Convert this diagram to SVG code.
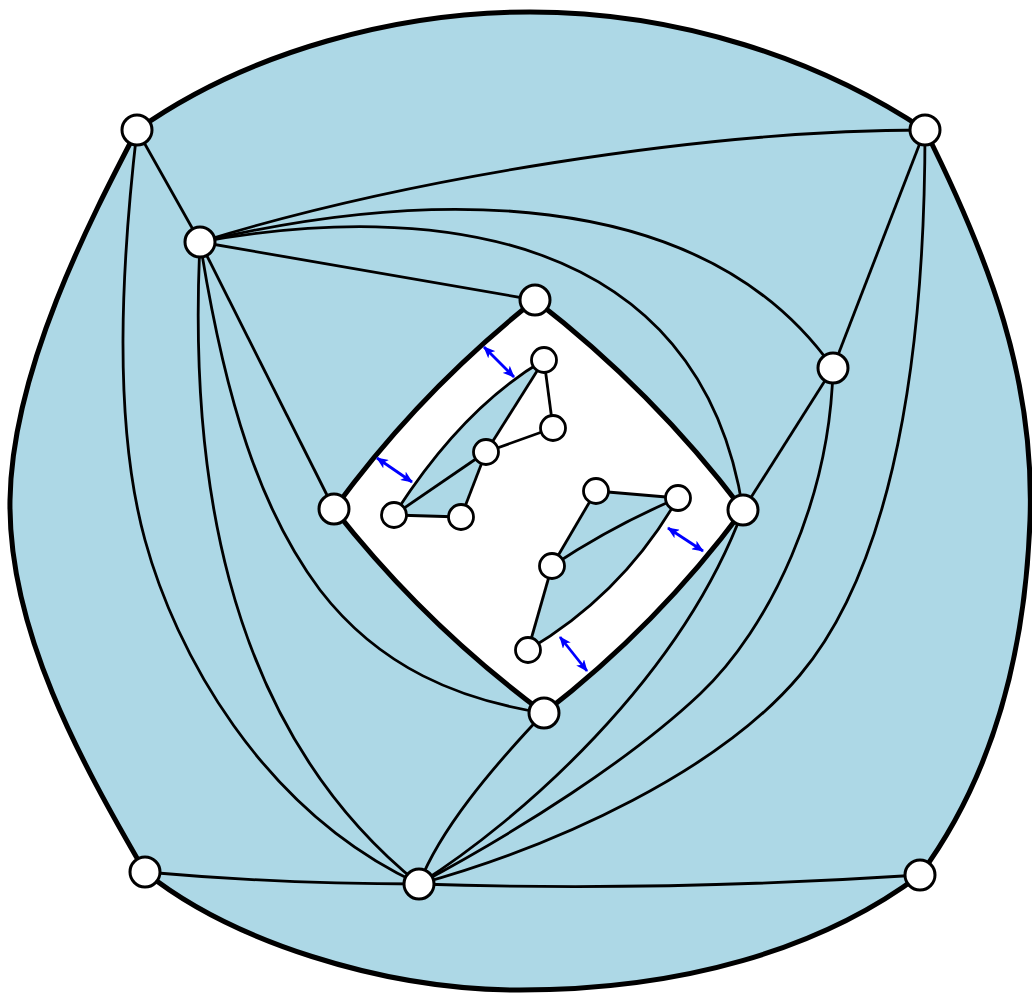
<svg xmlns="http://www.w3.org/2000/svg" width="1032" height="994" viewBox="0 0 1032 994">
<style>
.e{fill:none;stroke:#000;stroke-width:2.8}
.b{fill:none;stroke:#000;stroke-width:5;stroke-linejoin:round}
.n{fill:#fff;stroke:#000;stroke-width:3}
.s{fill:#fff;stroke:#000;stroke-width:2.8}
.f{fill:#ADD8E6;stroke:none}
.a{fill:none;stroke:#0000FF;stroke-width:2.8;marker-start:url(#ah);marker-end:url(#ah)}
</style>
<defs>
<marker id="ah" viewBox="0 0 12 10" refX="11" refY="5" markerWidth="12" markerHeight="10" markerUnits="userSpaceOnUse" orient="auto-start-reverse">
<path d="M0,0 L12,5 L0,10 L3,5 z" fill="#0000FF"/>
</marker>
</defs>
<g id="faces">
<path class="f" fill-rule="evenodd" d="M137,130 C250,50 400,12 530,12 C680,12 820,60 925,130 C990,260 1035,380 1030,520 C1025,660 990,780 920,875 C820,950 680,990 520,990 C380,990 230,940 145,872 C80,760 8,630 10,500 C12,370 90,220 137,130 Z M535,300 Q420,391 334,509 Q425,625 544,713 Q657.5,625.5 743,510 Q653,391 535,300 Z"/>
<path class="f" d="M544,360 Q462,408 394,515 L486,452 Z"/>
<path class="f" d="M486,452 L394,515 L461,517 Z"/>
<path class="f" d="M596,491 L678,498 Q612,526 552,566 Z"/>
<path class="f" d="M552,566 Q612,526 678,498 Q623,594 528,650 Z"/>
</g>
<g id="connectors">
<path class="e" d="M137,130 L200,242"/>
<path class="e" d="M137,130 C122,260 112,420 145,540 C175,650 260,810 419,884"/>
<path class="e" d="M200,242 C400,180 700,130 925,130"/>
<path class="e" d="M200,242 C420,190 700,180 833,368"/>
<path class="e" d="M200,242 C430,200 700,230 743,510"/>
<path class="e" d="M200,242 L535,300"/>
<path class="e" d="M200,242 L334,509"/>
<path class="e" d="M200,242 C225,400 260,510 320,590 C380,668 460,700 544,713"/>
<path class="e" d="M200,242 C190,450 215,720 419,884"/>
<path class="e" d="M145,872 Q280,884 419,884"/>
<path class="e" d="M419,884 Q660,892 920,875"/>
<path class="e" d="M419,884 C440,830 490,770 544,713"/>
<path class="e" d="M419,884 C520,820 680,680 743,510"/>
<path class="e" d="M419,884 C520,830 630,760 700,694 C770,628 830,500 833,368"/>
<path class="e" d="M419,884 C560,845 720,770 800,675 C880,580 925,400 925,130"/>
<path class="e" d="M833,368 L925,130"/>
<path class="e" d="M833,368 L743,510"/>
<path class="b" d="M137,130 C250,50 400,12 530,12 C680,12 820,60 925,130"/>
<path class="b" d="M925,130 C990,260 1035,380 1030,520 C1025,660 990,780 920,875"/>
<path class="b" d="M920,875 C820,950 680,990 520,990 C380,990 230,940 145,872"/>
<path class="b" d="M145,872 C80,760 8,630 10,500 C12,370 90,220 137,130"/>
<path class="b" d="M535,300 Q420,391 334,509"/>
<path class="b" d="M334,509 Q425,625 544,713"/>
<path class="b" d="M544,713 Q657.5,625.5 743,510"/>
<path class="b" d="M743,510 Q653,391 535,300"/>
<path class="e" d="M544,360 L553,428"/>
<path class="e" d="M544,360 L486,452"/>
<path class="e" d="M544,360 Q462,408 394,515"/>
<path class="e" d="M553,428 L486,452"/>
<path class="e" d="M486,452 L394,515"/>
<path class="e" d="M486,452 L461,517"/>
<path class="e" d="M394,515 L461,517"/>
<path class="e" d="M596,491 L678,498"/>
<path class="e" d="M596,491 L552,566"/>
<path class="e" d="M552,566 Q612,526 678,498"/>
<path class="e" d="M678,498 Q623,594 528,650"/>
<path class="e" d="M552,566 L528,650"/>
<path class="a" d="M484,347 L514,377"/>
<path class="a" d="M377,458 L412,482"/>
<path class="a" d="M668,528 L703,551"/>
<path class="a" d="M560,637 L587,671"/>
</g>
<g id="nA"><circle class="n" cx="137" cy="130" r="15"/></g>
<g id="nB"><circle class="n" cx="925" cy="130" r="15"/></g>
<g id="nC"><circle class="n" cx="145" cy="872" r="15"/></g>
<g id="nD"><circle class="n" cx="920" cy="875" r="15"/></g>
<g id="nE"><circle class="n" cx="200" cy="242" r="15"/></g>
<g id="nF"><circle class="n" cx="419" cy="884" r="15"/></g>
<g id="nG"><circle class="n" cx="833" cy="368" r="15"/></g>
<g id="nT"><circle class="n" cx="535" cy="300" r="15"/></g>
<g id="nL"><circle class="n" cx="334" cy="509" r="15"/></g>
<g id="nR"><circle class="n" cx="743" cy="510" r="15"/></g>
<g id="nBt"><circle class="n" cx="544" cy="713" r="15"/></g>
<g id="s1"><circle class="s" cx="544" cy="360" r="12.5"/></g>
<g id="s2"><circle class="s" cx="553" cy="428" r="12.5"/></g>
<g id="s3"><circle class="s" cx="486" cy="452" r="12.5"/></g>
<g id="s4"><circle class="s" cx="394" cy="515" r="12.5"/></g>
<g id="s5"><circle class="s" cx="461" cy="517" r="12.5"/></g>
<g id="s6"><circle class="s" cx="596" cy="491" r="12.5"/></g>
<g id="s7"><circle class="s" cx="678" cy="498" r="12.5"/></g>
<g id="s8"><circle class="s" cx="552" cy="566" r="12.5"/></g>
<g id="s9"><circle class="s" cx="528" cy="650" r="12.5"/></g>
</svg>
